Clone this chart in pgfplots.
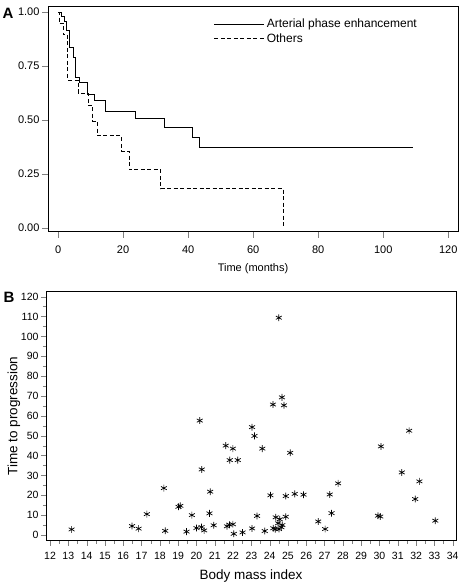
\documentclass[border=0pt]{standalone}
\usepackage{pgfplots}
\pgfplotsset{compat=1.18}
\usepackage{fontspec}
\setmainfont{Liberation Sans}
\begin{document}
\begin{tikzpicture}
\useasboundingbox (0,0) rectangle (464pt,584pt);
% Panel A
\begin{axis}[
  at={(48pt,352.3pt)}, anchor=south west,
  scale only axis, width=410pt, height=225.7pt,
  xmin=-3.1, xmax=123, ymin=-0.0185, ymax=1.028,
  xtick={0,20,...,120}, ytick={0,0.25,0.5,0.75,1},
  yticklabels={0.00,0.25,0.50,0.75,1.00},
  tick pos=left, tick align=outside,
  major tick length=6pt,
  axis line style={line width=0.8pt},
  /pgf/number format/assume math mode=true,
  tick label style={font=\fontsize{11}{13}\selectfont},
  xticklabel style={yshift=-5pt},
  yticklabel style={xshift=1pt},
  xlabel={Time (months)},
  xlabel style={font=\fontsize{11}{13}\selectfont, yshift=-3pt},
  legend image code/.code={\draw[#1] (0pt,0pt) -- (50pt,0pt);},
  legend style={draw=none, fill=none, at={(axis description cs:0.397,0.96)}, anchor=north west,
    font=\fontsize{12}{13}\selectfont, row sep=0pt},
  legend cell align=left,
]
\addplot[const plot, black, line width=0.8pt] coordinates {
(0,1) (1.0,0.978) (1.8,0.957) (2.5,0.913) (3.6,0.837) (4.6,0.79) (5.2,0.696) (6.6,0.674)
(9.1,0.62) (11.2,0.59) (14.4,0.54) (23.9,0.505) (32.8,0.467) (41.3,0.42) (43.4,0.373) (109.3,0.373)};
\addlegendentry{Arterial phase enhancement}
\addplot[const plot, black, line width=0.8pt, dash pattern=on 4pt off 2.5pt] coordinates {
(0,1) (0.3,0.947) (1.6,0.895) (3.0,0.685) (6.2,0.624) (9.3,0.565) (10.7,0.495) (12.1,0.426)
(19.4,0.356) (21.8,0.269) (31.6,0.18) (69.3,0.18) (69.3,0)};
\addlegendentry{Others}
\end{axis}
\node[font=\fontsize{15}{15}\bfseries\selectfont] at (8pt,571pt) {A};
% Panel B
\begin{axis}[
  at={(46pt,43.3pt)}, anchor=south west,
  scale only axis, width=410pt, height=249pt,
  xmin=11.78, xmax=34.18, ymin=-2.87, ymax=122.5,
  xtick={12,13,...,34}, ytick={0,10,...,120},
  minor x tick num=1, minor y tick num=1,
  tick pos=left, tick align=outside,
  major tick length=5pt, minor tick length=3pt,
  axis line style={line width=0.8pt},
  /pgf/number format/assume math mode=true,
  tick label style={font=\fontsize{10.5}{12}\selectfont},
  xticklabel style={yshift=-3pt},
  yticklabel style={xshift=1pt},
  xlabel={Body mass index}, ylabel={Time to progression},
  label style={font=\fontsize{13.5}{15}\selectfont},
  xlabel style={yshift=-3pt},
  ylabel style={yshift=-6pt},
]
\addplot[only marks, mark=asterisk, mark size=3.4pt, black, mark options={line width=0.7pt}] coordinates {
(13.18,2.8) (16.48,4.5) (16.84,3.2) (17.29,10.5) (18.22,23.6) (18.29,2.1) (19.02,14.2) (19.12,14.7)
(19.46,1.7) (19.75,10) (20.18,57.6) (20.00,3.5) (20.28,4.0) (20.42,2.3) (20.29,33) (20.75,21.8)
(20.71,10.9) (20.94,4.9) (21.60,45) (21.99,43.5) (21.82,37.7) (22.26,37.7) (21.67,4.4) (21.80,5.2)
(21.99,5.4) (22.04,0.6) (22.52,1.3) (23.04,3.3) (23.31,9.6) (23.04,54.3) (23.17,49.9) (23.60,43.5)
(24.18,65.7) (24.67,69.3) (24.78,65.3) (24.50,109.4) (25.12,41.4) (24.04,20) (24.88,19.6) (25.37,20.7)
(25.85,20.3) (23.73,2) (24.20,3.4) (24.31,2.9) (24.51,3.0) (24.64,3.9) (24.69,5.0) (24.46,5.9)
(24.33,8.9) (24.55,7.9) (24.88,9.2) (26.65,6.8) (27.03,3) (27.28,20.4) (27.38,11) (27.74,26)
(30.08,44.6) (29.92,9.7) (30.04,9.3) (31.22,31.5) (31.62,52.5) (32.18,27) (31.95,18.1) (33.05,7.2)};
\end{axis}
\node[font=\fontsize{15}{15}\bfseries\selectfont] at (9pt,286.5pt) {B};
\end{tikzpicture}
\end{document}
